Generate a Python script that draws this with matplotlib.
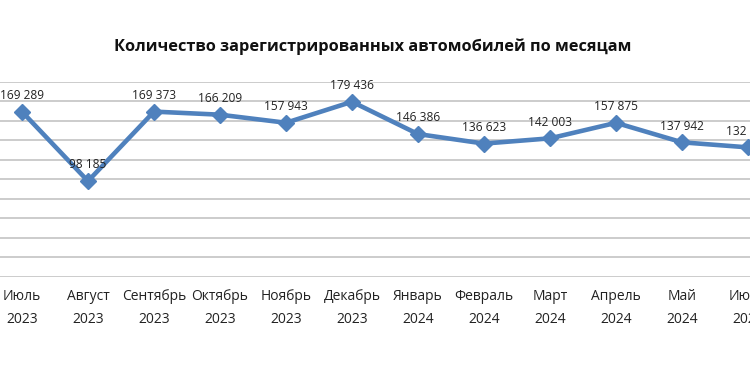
import numpy as np
import matplotlib
matplotlib.use("Agg")
import matplotlib.pyplot as plt

plt.rcParams['font.family'] = ['Open Sans', 'DejaVu Sans']

months = ['Июль', 'Август', 'Сентябрь', 'Октябрь', 'Ноябрь', 'Декабрь',
          'Январь', 'Февраль', 'Март', 'Апрель', 'Май', 'Июнь']
years = ['2023'] * 6 + ['2024'] * 6
registrations = [169289, 98185, 169373, 166209, 157943, 179436,
                 146386, 136623, 142003, 157875, 137942, 132744]

blue = '#4F81BD'

fig = plt.figure(figsize=(7.5, 3.75), dpi=100)
# plot area is wider than the picture: the original screenshot is cropped at both sides
ax = fig.add_axes([-11 / 750, (375 - 277) / 375, 792 / 750, (277 - 81.7) / 375])

x = np.arange(len(months))
ax.plot(x, registrations, color=blue, lw=3.3, marker='D', ms=8.5, zorder=3)

for xi, v in zip(x, registrations):
    txt = f'{v:,}'.replace(',', ' ')
    ax.annotate(txt, (xi, v), xytext=(0, 7), textcoords='offset points',
                ha='center', va='bottom', fontsize=8.6, color='#222222')

ax.set_xlim(-0.5, len(months) - 0.5)
ax.set_ylim(0, 200000)
ax.set_yticks(np.arange(0, 200001, 20000))
ax.yaxis.grid(True, color='#BFBFBF', lw=1.1)
ax.set_axisbelow(True)
ax.tick_params(axis='y', left=False, labelleft=False)
ax.set_xticks(x)
ax.set_xticklabels([f'{m}\n{y}' for m, y in zip(months, years)],
                   fontsize=10, color='#222222', linespacing=1.7)
ax.tick_params(axis='x', length=0, pad=9)
for s in ax.spines.values():
    s.set_visible(False)

fig.text(0.497, 1 - 47 / 375, 'Количество зарегистрированных автомобилей по месяцам',
         ha='center', va='center', fontsize=11.8, fontweight='bold', color='#111111')

fig.savefig('out.png', dpi=100)
